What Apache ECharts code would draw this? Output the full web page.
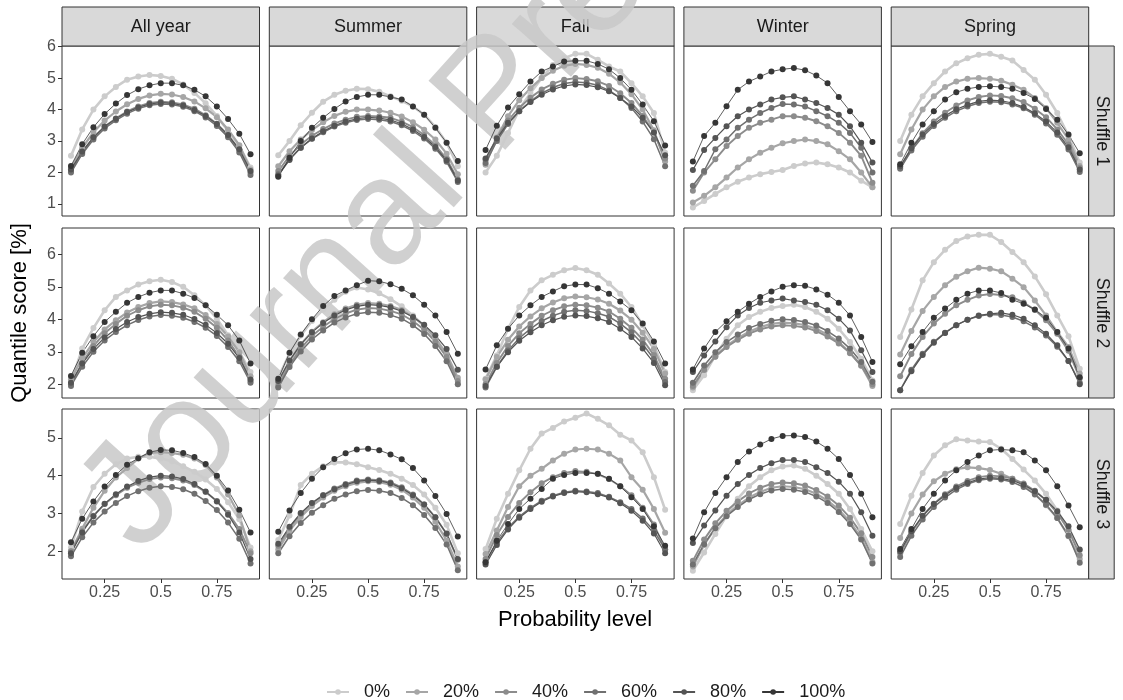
<!DOCTYPE html>
<html>
<head>
<meta charset="utf-8">
<script src="https://cdn.jsdelivr.net/npm/echarts@6/dist/echarts.min.js"></script>
<style>
  html, body { margin: 0; padding: 0; background: #fff; }
  #chart { width: 1123px; height: 700px; }
</style>
</head>
<body>
<div id="chart"></div>
<script>
// categories
var probs = [0.1, 0.15, 0.2, 0.25, 0.3, 0.35, 0.4, 0.45, 0.5, 0.55, 0.6, 0.65, 0.7, 0.75, 0.8, 0.85, 0.9];
var seasons = ['All year', 'Summer', 'Fall', 'Winter', 'Spring'];
var shuffles = ['Shuffle 1', 'Shuffle 2', 'Shuffle 3'];
var levels = ['0%', '20%', '40%', '60%', '80%', '100%'];
var xTicks = [0.25, 0.5, 0.75];
var yTicks = [[1, 2, 3, 4, 5, 6], [2, 3, 4, 5, 6], [2, 3, 4, 5]];
var yMin = [0.62, 1.58, 1.27];
var yMax = [6.02, 6.81, 5.76];

// quantile score per panel, one row per level (0% .. 100%)
var allYear1 = [
  [2.53,3.37,4.00,4.42,4.72,4.95,5.05,5.10,5.07,4.98,4.80,4.53,4.20,3.80,3.32,2.85,2.16],
  [2.15,2.78,3.28,3.65,3.94,4.17,4.34,4.45,4.50,4.48,4.40,4.26,4.04,3.76,3.37,2.87,2.10],
  [2.05,2.64,3.11,3.46,3.72,3.94,4.10,4.21,4.25,4.23,4.16,4.03,3.82,3.55,3.19,2.72,2.00],
  [2.00,2.59,3.05,3.40,3.66,3.87,4.03,4.14,4.18,4.16,4.09,3.95,3.75,3.48,3.12,2.64,1.92],
  [2.10,2.67,3.12,3.46,3.71,3.92,4.07,4.18,4.22,4.20,4.13,3.99,3.80,3.54,3.19,2.74,2.05],
  [2.21,2.90,3.44,3.86,4.19,4.46,4.65,4.77,4.84,4.84,4.77,4.63,4.42,4.10,3.70,3.23,2.58]
];
var summer1 = [
  [2.55,3.00,3.50,3.90,4.25,4.47,4.60,4.66,4.65,4.57,4.42,4.28,4.10,3.84,3.45,2.95,2.20],
  [2.20,2.68,3.05,3.35,3.60,3.80,3.93,4.00,4.00,3.97,3.90,3.78,3.60,3.36,3.05,2.60,1.95],
  [2.05,2.52,2.89,3.17,3.38,3.56,3.68,3.77,3.80,3.78,3.74,3.62,3.44,3.19,2.87,2.43,1.78],
  [1.95,2.42,2.79,3.07,3.28,3.46,3.58,3.67,3.70,3.68,3.62,3.50,3.32,3.08,2.76,2.34,1.70],
  [1.90,2.40,2.79,3.08,3.31,3.49,3.62,3.71,3.75,3.73,3.67,3.55,3.37,3.13,2.81,2.39,1.75],
  [1.87,2.47,3.00,3.42,3.74,4.02,4.26,4.40,4.47,4.47,4.40,4.32,4.10,3.84,3.42,2.95,2.37]
];
var fall1 = [
  [2.00,2.53,3.26,4.00,4.53,5.00,5.42,5.63,5.77,5.77,5.58,5.37,5.21,4.84,4.42,3.89,2.63],
  [2.25,3.11,3.79,4.30,4.68,5.00,5.23,5.39,5.45,5.42,5.33,5.14,4.86,4.49,4.00,3.34,2.35],
  [2.40,3.10,3.65,4.06,4.38,4.64,4.82,4.95,5.00,4.97,4.90,4.75,4.52,4.21,3.80,3.27,2.45],
  [2.30,3.00,3.54,3.95,4.26,4.52,4.70,4.83,4.88,4.85,4.77,4.61,4.37,4.05,3.62,3.06,2.20],
  [2.45,3.08,3.58,3.95,4.24,4.47,4.64,4.75,4.80,4.78,4.71,4.58,4.37,4.10,3.74,3.27,2.55],
  [2.72,3.49,4.07,4.49,4.89,5.21,5.37,5.53,5.55,5.55,5.45,5.28,5.00,4.63,4.16,3.63,2.86]
];
var winter1 = [
  [0.89,1.10,1.32,1.53,1.71,1.84,1.95,2.02,2.08,2.21,2.29,2.32,2.26,2.16,2.00,1.74,1.53],
  [1.05,1.26,1.53,1.84,2.16,2.42,2.63,2.79,2.93,3.00,3.05,3.00,2.90,2.68,2.42,2.00,1.53],
  [1.42,2.00,2.42,2.84,3.16,3.42,3.58,3.68,3.79,3.79,3.74,3.63,3.47,3.26,2.95,2.53,1.68],
  [1.58,2.05,2.74,3.05,3.42,3.68,3.89,4.05,4.18,4.16,4.10,3.95,3.79,3.58,3.26,2.79,2.00],
  [2.08,2.72,3.10,3.47,3.79,4.00,4.16,4.32,4.39,4.42,4.32,4.21,4.05,3.84,3.47,2.95,2.32],
  [2.35,3.16,3.58,4.11,4.63,4.89,5.05,5.21,5.28,5.32,5.25,5.08,4.84,4.40,3.95,3.53,2.97]
];
var spring1 = [
  [3.00,3.84,4.42,4.84,5.21,5.47,5.63,5.74,5.77,5.68,5.56,5.26,4.95,4.47,3.89,3.16,2.32],
  [2.58,3.37,4.00,4.42,4.72,4.89,4.98,5.00,4.98,4.92,4.79,4.63,4.37,4.05,3.58,3.05,2.21],
  [2.15,2.77,3.25,3.62,3.90,4.13,4.29,4.40,4.45,4.43,4.36,4.24,4.03,3.76,3.37,2.89,2.15],
  [2.12,2.70,3.14,3.48,3.74,3.95,4.10,4.21,4.25,4.23,4.16,4.04,3.84,3.56,3.20,2.73,2.02],
  [2.20,2.77,3.21,3.54,3.80,4.01,4.15,4.26,4.30,4.28,4.21,4.08,3.88,3.62,3.27,2.80,2.10],
  [2.26,2.95,3.53,3.95,4.32,4.55,4.66,4.72,4.74,4.72,4.66,4.53,4.34,4.02,3.68,3.21,2.61]
];
var allYear2 = [
  [2.07,3.10,3.73,4.28,4.69,4.89,5.07,5.17,5.22,5.15,5.00,4.74,4.43,4.02,3.51,3.00,2.38],
  [2.15,2.80,3.30,3.69,3.97,4.21,4.38,4.50,4.55,4.53,4.46,4.34,4.13,3.86,3.47,2.99,2.25],
  [2.00,2.66,3.18,3.57,3.86,4.11,4.28,4.40,4.45,4.43,4.36,4.23,4.02,3.74,3.35,2.85,2.10],
  [1.95,2.54,3.00,3.35,3.61,3.82,3.98,4.09,4.13,4.11,4.05,3.92,3.74,3.49,3.15,2.71,2.05],
  [2.05,2.64,3.09,3.44,3.70,3.92,4.07,4.17,4.22,4.20,4.14,4.01,3.83,3.58,3.25,2.81,2.15],
  [2.26,2.97,3.48,3.92,4.23,4.51,4.69,4.82,4.89,4.89,4.79,4.66,4.43,4.14,3.82,3.35,2.64]
];
var summer2 = [
  [2.20,2.95,3.50,3.95,4.30,4.60,4.85,4.98,4.92,4.80,4.62,4.40,4.12,3.80,3.40,2.85,2.00],
  [2.05,2.71,3.23,3.62,3.91,4.16,4.33,4.45,4.50,4.48,4.41,4.29,4.08,3.81,3.42,2.94,2.20],
  [1.95,2.60,3.10,3.49,3.77,4.01,4.18,4.30,4.35,4.33,4.26,4.15,3.95,3.68,3.31,2.84,2.10],
  [1.90,2.53,3.01,3.38,3.66,3.90,4.06,4.17,4.22,4.20,4.13,4.02,3.82,3.55,3.18,2.71,2.00],
  [2.10,2.73,3.23,3.60,3.89,4.12,4.29,4.40,4.45,4.43,4.37,4.25,4.07,3.83,3.51,3.09,2.45],
  [2.17,2.97,3.53,4.00,4.41,4.72,4.89,5.05,5.19,5.17,5.08,4.94,4.74,4.45,4.12,3.61,2.94]
];
var fall2 = [
  [2.17,2.89,3.71,4.38,4.89,5.20,5.37,5.51,5.58,5.51,5.37,5.10,4.79,4.38,3.82,3.20,2.38],
  [2.15,2.84,3.37,3.78,4.09,4.34,4.52,4.65,4.70,4.68,4.61,4.48,4.27,3.99,3.59,3.09,2.33],
  [2.00,2.66,3.18,3.57,3.86,4.11,4.28,4.40,4.45,4.43,4.36,4.24,4.02,3.74,3.38,2.90,2.17],
  [1.90,2.54,3.04,3.42,3.71,3.95,4.11,4.23,4.28,4.26,4.19,4.08,3.87,3.60,3.24,2.78,2.07],
  [1.95,2.54,2.99,3.34,3.60,3.82,3.97,4.08,4.12,4.10,4.03,3.92,3.71,3.46,3.10,2.66,1.97],
  [2.46,3.20,3.71,4.12,4.43,4.69,4.86,5.02,5.07,5.07,4.96,4.79,4.55,4.28,3.87,3.32,2.64]
];
var winter2 = [
  [1.82,2.28,2.89,3.40,3.82,4.07,4.23,4.35,4.41,4.45,4.38,4.23,4.02,3.71,3.30,2.79,2.12],
  [1.90,2.44,2.86,3.18,3.42,3.62,3.76,3.86,3.90,3.88,3.82,3.71,3.53,3.30,2.98,2.57,1.95],
  [1.95,2.45,2.85,3.15,3.37,3.56,3.69,3.78,3.82,3.80,3.75,3.64,3.47,3.26,2.96,2.58,2.00],
  [2.05,2.58,2.99,3.30,3.53,3.73,3.86,3.96,4.00,3.98,3.92,3.81,3.64,3.41,3.10,2.69,2.08],
  [2.38,2.89,3.32,3.76,4.12,4.35,4.51,4.58,4.64,4.58,4.53,4.45,4.28,4.02,3.66,3.05,2.38],
  [2.46,3.10,3.61,3.94,4.23,4.48,4.69,4.86,5.00,5.05,5.03,4.92,4.76,4.51,4.12,3.46,2.69]
];
var spring2 = [
  [3.46,4.30,5.20,5.76,6.14,6.41,6.55,6.60,6.60,6.38,6.07,5.76,5.32,4.77,4.12,3.48,2.48],
  [2.92,3.64,4.26,4.69,5.05,5.31,5.48,5.59,5.56,5.48,5.25,4.99,4.58,4.12,3.61,3.15,2.33],
  [2.25,2.93,3.46,3.87,4.17,4.43,4.60,4.73,4.78,4.75,4.68,4.52,4.29,3.97,3.56,3.03,2.18],
  [1.82,2.45,2.94,3.31,3.59,3.82,3.99,4.10,4.15,4.13,4.07,3.94,3.75,3.50,3.16,2.72,2.05],
  [1.82,2.40,2.90,3.28,3.58,3.82,3.99,4.12,4.17,4.20,4.14,4.02,3.82,3.56,3.20,2.72,2.00],
  [2.62,3.17,3.61,4.05,4.33,4.60,4.79,4.89,4.89,4.81,4.60,4.48,4.30,4.05,3.61,3.10,2.22]
];
var allYear3 = [
  [2.10,3.05,3.70,4.05,4.30,4.45,4.50,4.50,4.45,4.38,4.25,4.10,3.90,3.65,3.30,2.85,2.10],
  [2.00,2.60,3.15,3.60,3.95,4.20,4.45,4.60,4.62,4.60,4.55,4.45,4.28,3.95,3.50,2.95,2.00],
  [2.00,2.53,2.94,3.25,3.48,3.68,3.81,3.91,3.95,3.93,3.87,3.75,3.57,3.33,3.01,2.59,1.95],
  [1.87,2.37,2.76,3.05,3.28,3.46,3.59,3.68,3.72,3.70,3.64,3.52,3.33,3.09,2.76,2.33,1.68],
  [1.95,2.50,2.93,3.26,3.51,3.71,3.86,3.96,4.00,3.98,3.91,3.78,3.58,3.32,2.97,2.50,1.80],
  [2.24,2.86,3.32,3.71,4.02,4.29,4.46,4.62,4.68,4.67,4.60,4.49,4.31,4.00,3.61,3.10,2.50]
];
var summer3 = [
  [2.30,2.95,3.75,4.05,4.25,4.35,4.35,4.30,4.22,4.15,4.05,3.92,3.75,3.50,3.15,2.70,1.95],
  [2.05,2.54,2.91,3.20,3.42,3.60,3.72,3.81,3.85,3.83,3.76,3.63,3.42,3.15,2.78,2.29,1.60],
  [2.15,2.62,2.99,3.27,3.48,3.66,3.78,3.87,3.90,3.88,3.82,3.69,3.50,3.24,2.90,2.46,1.78],
  [1.95,2.40,2.75,3.02,3.22,3.39,3.50,3.59,3.62,3.60,3.54,3.41,3.22,2.96,2.62,2.18,1.50],
  [2.20,2.65,3.01,3.28,3.48,3.64,3.76,3.85,3.88,3.86,3.80,3.67,3.48,3.24,2.90,2.47,1.80],
  [2.52,3.08,3.54,3.92,4.22,4.44,4.59,4.69,4.71,4.67,4.56,4.43,4.20,3.87,3.46,2.99,2.39]
];
var fall3 = [
  [2.06,2.86,3.52,4.14,4.71,5.11,5.26,5.43,5.53,5.64,5.50,5.33,5.08,4.93,4.62,3.96,3.10],
  [1.93,2.55,3.17,3.72,4.00,4.18,4.40,4.58,4.69,4.71,4.69,4.58,4.40,3.96,3.63,3.12,2.49],
  [1.80,2.43,2.91,3.28,3.56,3.80,3.96,4.07,4.12,4.10,4.04,3.91,3.72,3.48,3.15,2.71,2.05],
  [1.72,2.23,2.62,2.92,3.15,3.34,3.47,3.56,3.60,3.58,3.54,3.44,3.30,3.12,2.87,2.55,2.05],
  [1.65,2.17,2.58,2.89,3.12,3.31,3.45,3.54,3.58,3.56,3.51,3.42,3.27,3.07,2.81,2.47,1.95],
  [1.71,2.28,2.72,3.12,3.39,3.65,3.92,4.02,4.07,4.07,4.05,3.92,3.72,3.43,3.12,2.66,2.15]
];
var winter3 = [
  [1.49,1.97,2.46,2.94,3.39,3.72,3.96,4.14,4.24,4.27,4.18,4.00,3.78,3.52,3.12,2.59,2.00],
  [1.60,2.17,2.62,2.96,3.21,3.42,3.57,3.68,3.72,3.70,3.64,3.52,3.34,3.10,2.78,2.36,1.72],
  [1.75,2.31,2.74,3.07,3.32,3.53,3.68,3.78,3.82,3.80,3.74,3.62,3.45,3.21,2.89,2.48,1.85],
  [1.65,2.19,2.61,2.93,3.17,3.37,3.51,3.61,3.65,3.63,3.57,3.45,3.28,3.04,2.72,2.31,1.68],
  [2.22,2.68,3.08,3.47,3.78,4.02,4.20,4.33,4.41,4.41,4.36,4.22,4.07,3.84,3.52,3.03,2.41],
  [2.34,3.03,3.54,3.96,4.36,4.64,4.82,4.97,5.05,5.06,5.02,4.90,4.71,4.44,4.02,3.52,2.90]
];
var spring3 = [
  [2.72,3.47,4.07,4.53,4.80,4.96,4.93,4.90,4.89,4.71,4.44,4.16,3.87,3.52,3.08,2.55,2.02],
  [2.35,3.00,3.50,3.85,4.05,4.17,4.22,4.20,4.15,4.05,3.92,3.75,3.52,3.22,2.88,2.40,1.80],
  [1.95,2.50,2.93,3.26,3.51,3.71,3.86,3.96,4.00,3.98,3.92,3.79,3.60,3.35,3.01,2.57,1.90],
  [1.85,2.41,2.84,3.17,3.42,3.63,3.78,3.88,3.92,3.90,3.83,3.70,3.50,3.23,2.88,2.41,1.70],
  [2.00,2.53,2.94,3.25,3.48,3.68,3.81,3.91,3.95,3.93,3.87,3.76,3.59,3.36,3.06,2.66,2.05],
  [2.06,2.59,3.12,3.52,3.87,4.14,4.36,4.53,4.67,4.69,4.67,4.62,4.40,4.14,3.72,3.21,2.64]
];

var panels = [
  [allYear1, summer1, fall1, winter1, spring1],
  [allYear2, summer2, fall2, winter2, spring2],
  [allYear3, summer3, fall3, winter3, spring3]
];

// styles
var font = 'Liberation Sans, Arial, Helvetica, sans-serif';
var colors = ['#cccccc', '#a6a6a6', '#8c8c8c', '#707070', '#545454', '#363636'];
var widths = [2.6, 2.2, 1.9, 1.5, 1.2, 0.8];
var colLeft = [62, 269.3, 476.6, 683.9, 891.2];
var rowTop = [46, 228, 409];
var panelW = 197.5, panelH = 170;

var myChart = echarts.init(document.getElementById('chart'), null, { renderer: 'canvas' });

var grids = [], xAxes = [], yAxes = [], series = [], graphics = [];

for (var r = 0; r < 3; r++) {
  for (var c = 0; c < 5; c++) {
    var idx = r * 5 + c;
    grids.push({
      left: colLeft[c], top: rowTop[r], width: panelW, height: panelH,
      show: true, borderColor: '#333333', borderWidth: 1, backgroundColor: '#ffffff'
    });
    xAxes.push({
      gridIndex: idx, type: 'value', min: 0.06, max: 0.94,
      splitLine: { show: false },
      axisLine: { show: false },
      axisTick: { show: r === 2, customValues: xTicks, length: 4, lineStyle: { color: '#333333' } },
      axisLabel: {
        show: r === 2, customValues: xTicks, color: '#4d4d4d', fontSize: 16,
        fontFamily: font, margin: 6,
        formatter: function (v) { return String(v); }
      }
    });
    yAxes.push({
      gridIndex: idx, type: 'value', min: yMin[r], max: yMax[r],
      splitLine: { show: false },
      axisLine: { show: false },
      axisTick: { show: c === 0, customValues: yTicks[r], length: 4, lineStyle: { color: '#333333' } },
      axisLabel: {
        show: c === 0, customValues: yTicks[r], color: '#4d4d4d', fontSize: 16,
        fontFamily: font, margin: 6
      }
    });
    for (var k = 0; k < levels.length; k++) {
      var vals = panels[r][c][k];
      series.push({
        type: 'line', name: levels[k],
        xAxisIndex: idx, yAxisIndex: idx,
        data: probs.map(function (p, i) { return [p, vals[i]]; }),
        symbol: 'circle', symbolSize: 6, showSymbol: true,
        lineStyle: { width: widths[k], color: colors[k] },
        itemStyle: { color: colors[k] },
        silent: true, animation: false
      });
    }
  }
}

// facet strips on top
seasons.forEach(function (s, c) {
  graphics.push({
    type: 'rect', shape: { x: colLeft[c], y: 7, width: panelW, height: 39 },
    style: { fill: '#d9d9d9', stroke: '#333333', lineWidth: 1 }
  });
  graphics.push({
    type: 'text', x: colLeft[c] + panelW / 2, y: 27,
    style: { text: s, fill: '#1a1a1a', font: '18px ' + font, textAlign: 'center', textVerticalAlign: 'middle' }
  });
});
// facet strips on the right
shuffles.forEach(function (s, r) {
  graphics.push({
    type: 'rect', shape: { x: 1088.7, y: rowTop[r], width: 25.5, height: panelH },
    style: { fill: '#d9d9d9', stroke: '#333333', lineWidth: 1 }
  });
  graphics.push({
    type: 'text', x: 1101.5, y: rowTop[r] + panelH / 2, rotation: -Math.PI / 2,
    style: { text: s, fill: '#1a1a1a', font: '18px ' + font, textAlign: 'center', textVerticalAlign: 'middle' }
  });
});
// axis titles
graphics.push({
  type: 'text', x: 20, y: 313, rotation: Math.PI / 2,
  style: { text: 'Quantile score [%]', fill: '#000000', font: '22px ' + font, textAlign: 'center', textVerticalAlign: 'middle' }
});
graphics.push({
  type: 'text', x: 575, y: 620,
  style: { text: 'Probability level', fill: '#000000', font: '22px ' + font, textAlign: 'center', textVerticalAlign: 'middle' }
});
// watermark
graphics.push({
  type: 'text', x: 165, y: 578, rotation: 48 * Math.PI / 180,
  style: { text: 'Journal Pre-proof', fill: 'rgba(200,200,200,0.85)', font: '150px ' + font, textAlign: 'left', textVerticalAlign: 'bottom' }
});

var option = {
  backgroundColor: '#ffffff',
  animation: false,
  grid: grids,
  xAxis: xAxes,
  yAxis: yAxes,
  legend: {
    data: levels,
    left: 321, top: 678,
    itemWidth: 22, itemHeight: 7, itemGap: 15,
    formatter: function (name) { return '  ' + name; },
    textStyle: { fontSize: 18, color: '#1a1a1a', fontFamily: font }
  },
  graphic: graphics,
  series: series
};

myChart.setOption(option);
</script>
</body>
</html>
